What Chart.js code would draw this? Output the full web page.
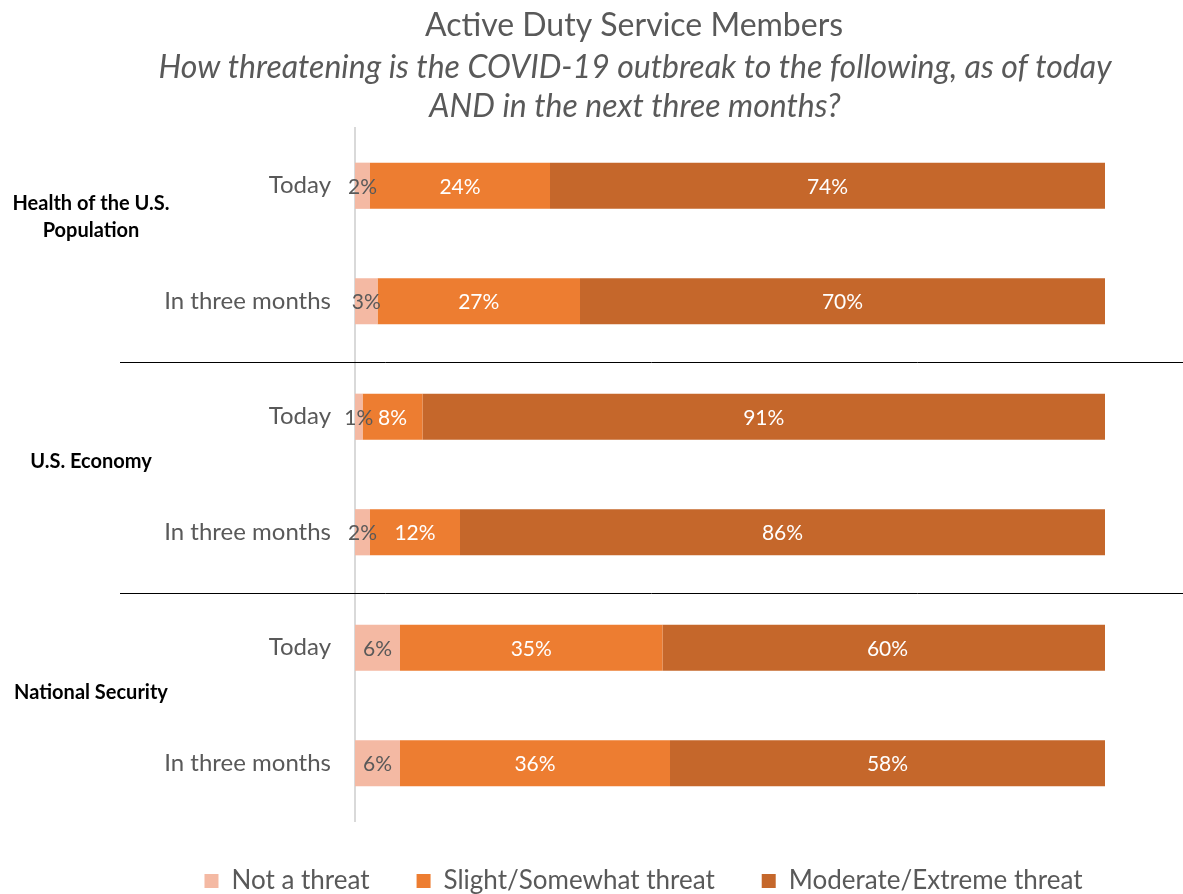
<!DOCTYPE html>
<html>
<head>
<meta charset="utf-8">
<title>Active Duty Service Members</title>
<script src="https://cdn.jsdelivr.net/npm/chart.js@4.4.1/dist/chart.umd.min.js"></script>
<style>
  html, body { margin: 0; padding: 0; background: #fff; }
  #wrap { width: 1183px; height: 894px; position: relative; }
</style>
</head>
<body>
<div id="wrap"><canvas id="threatChart"></canvas></div>
<script>
// data
const categories = ["Today", "In three months", "Today", "In three months", "Today", "In three months"];
const groups = [["Health of the U.S.", "Population"], ["U.S. Economy"], ["National Security"]];
const notThreat = [2, 3, 1, 2, 6, 6];
const slightThreat = [24, 27, 8, 12, 35, 36];
const moderateThreat = [74, 70, 91, 86, 60, 58];
const seriesNames = ["Not a threat", "Slight/Somewhat threat", "Moderate/Extreme threat"];
const titleText = "Active Duty Service Members";
const subtitleLines = ["How threatening is the COVID-19 outbreak to the following, as of today", "AND in the next three months?"];

const FONT = "Lato, 'Open Sans', sans-serif";
const GREY = "#595959";

// title + subtitle, drawn where Excel put them
const titlePlugin = {
    id: "titles",
    afterDraw(chart) {
        const c = chart.ctx;
        c.save();
        c.fillStyle = GREY;
        c.textAlign = "center";
        c.textBaseline = "middle";
        c.font = "32px " + FONT;
        c.fillText(titleText, 634, 26);
        c.font = "italic 32px " + FONT;
        c.fillText(subtitleLines[0], 635, 68);
        c.fillText(subtitleLines[1], 635, 107);
        c.restore();
    }
};

// nudge the legend right, Excel centres it a bit off the canvas middle
const legendShift = {
    id: "legendShift",
    afterLayout(chart) {
        if (chart.legend) {
            chart.legend.left += 42;
            chart.legend.right += 42;
        }
    }
};

// outer category labels + the black divider lines
const groupPlugin = {
    id: "groups",
    afterDraw(chart) {
        const c = chart.ctx;
        const y = chart.scales.y;
        c.save();
        c.strokeStyle = "#000";
        c.lineWidth = 1;
        [1.5, 3.5].forEach(v => {
            const py = Math.round(y.getPixelForValue(v)) + 3.5;
            c.beginPath();
            c.moveTo(120, py);
            c.lineTo(1183, py);
            c.stroke();
        });
        c.fillStyle = "#000";
        c.font = "bold 20px " + FONT;
        c.textAlign = "center";
        c.textBaseline = "middle";
        groups.forEach((lines, i) => {
            const mid = y.getPixelForValue(i * 2 + 0.5) - 13;
            lines.forEach((txt, j) => {
                c.fillText(txt, 91, mid - (lines.length - 1 - j) * 27);
            });
        });
        c.restore();
    }
};

// % labels in the middle of each segment
const valuePlugin = {
    id: "values",
    afterDatasetsDraw(chart) {
        const c = chart.ctx;
        c.save();
        c.font = "21px " + FONT;
        c.textAlign = "center";
        c.textBaseline = "middle";
        chart.data.datasets.forEach((ds, di) => {
            const meta = chart.getDatasetMeta(di);
            c.fillStyle = di === 0 ? GREY : "#fff";
            meta.data.forEach((bar, i) => {
                const cx = (bar.x + bar.base) / 2;
                c.fillText(ds.data[i] + "%", cx, bar.y + 1);
            });
        });
        c.restore();
    }
};

new Chart(document.getElementById("threatChart"), {
    type: "bar",
    data: {
        labels: categories,
        datasets: [
            { label: seriesNames[0], data: notThreat, backgroundColor: "#F4B9A3" },
            { label: seriesNames[1], data: slightThreat, backgroundColor: "#ED7D31" },
            { label: seriesNames[2], data: moderateThreat, backgroundColor: "#C5672B" }
        ]
    },
    options: {
        indexAxis: "y",
        responsive: true,
        maintainAspectRatio: false,
        animation: false,
        barPercentage: 0.4,
        categoryPercentage: 1,
        layout: { padding: { top: 128, right: 78, left: 98, bottom: -10 } },
        plugins: {
            title: { display: false },
            tooltip: { enabled: false },
            legend: {
                position: "bottom",
                labels: {
                    color: GREY,
                    font: { family: FONT, size: 26 },
                    boxWidth: 14,
                    boxHeight: 14,
                    padding: 47
                }
            }
        },
        scales: {
            x: {
                stacked: true,
                min: 0,
                max: 100,
                display: false
            },
            y: {
                stacked: true,
                afterFit(scale) { scale.width = 257; },
                grid: { display: false, drawTicks: false },
                border: { display: true, color: "#D9D9D9", width: 2 },
                ticks: {
                    color: GREY,
                    padding: 24,
                    font: { family: FONT, size: 24 }
                }
            }
        }
    },
    plugins: [titlePlugin, legendShift, groupPlugin, valuePlugin]
});
</script>
</body>
</html>
